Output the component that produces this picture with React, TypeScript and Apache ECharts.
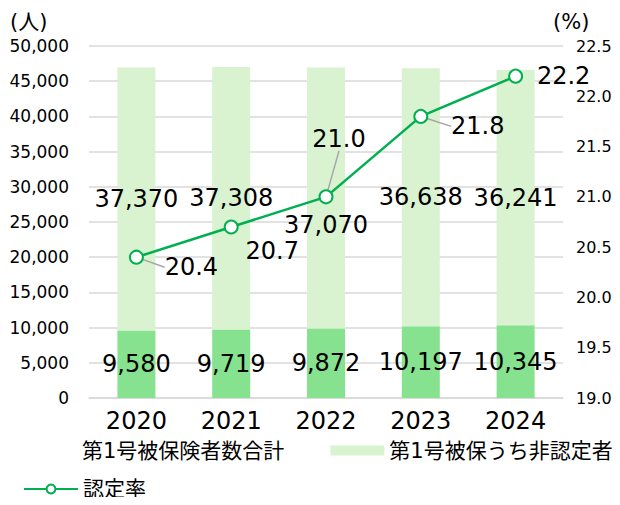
import React, { useEffect, useRef } from "react";
import * as echarts from "echarts";

const years = ["2020", "2021", "2022", "2023", "2024"];
const certified = [9580, 9719, 9872, 10197, 10345];
const nonCertified = [37370, 37308, 37070, 36638, 36241];
const totals = [46950, 47027, 46942, 46835, 46586];
const rate = [20.4, 20.7, 21.0, 21.8, 22.2];

const NAME_TOTAL = "第1号被保険者数合計";
const NAME_NON = "第1号被保うち非認定者";
const NAME_CERT = "認定者";
const NAME_RATE = "認定率";

const FONT = '"DejaVu Sans", "Noto Sans CJK JP", sans-serif';

// label placement tweaks (style, not data)
const rateLabelShift = [
  [55, 10],
  [41, 24],
  [13, -58],
  [57, 10],
  [48, 0],
];
const rateGuide = [true, false, true, true, false];
const nonLabelShift = [0, 0, 27, 0, 0];

export default function App() {
  const ref = useRef<HTMLDivElement>(null);
  useEffect(() => {
    if (!ref.current) return;
    const chart = echarts.init(ref.current, undefined, { renderer: "svg" });
    const fmt = (v: number) => v.toLocaleString("en-US");
    const option: any = {
      animation: false,
      textStyle: { fontFamily: FONT, color: "#000" },
      grid: { left: 89, right: 57, top: 46, bottom: 107 },
      graphic: [
        {
          type: "text",
          left: 10,
          top: 11,
          style: { text: "(人)", font: `21px ${FONT}`, fill: "#000" },
        },
        {
          type: "text",
          left: 553,
          top: 11,
          style: { text: "(%)", font: `21px ${FONT}`, fill: "#000" },
        },
      ],
      legend: [
        {
          left: 23,
          top: 440,
          padding: 0,
          itemWidth: 54,
          itemHeight: 10,
          itemGap: 46,
          textStyle: { fontSize: 21, color: "#000", fontFamily: FONT },
          data: [
            {
              name: NAME_TOTAL,
              icon: "rect",
              itemStyle: { opacity: 0 },
              lineStyle: { opacity: 0 },
            },
            { name: NAME_NON, icon: "rect" },
          ],
        },
        {
          left: 23,
          top: 476,
          padding: 0,
          itemWidth: 54,
          itemHeight: 11,
          textStyle: { fontSize: 21, color: "#000", fontFamily: FONT, lineHeight: 26 },
          data: [{ name: NAME_RATE }],
        },
      ],
      xAxis: {
        type: "category",
        data: years,
        axisLine: { lineStyle: { color: "#d9d9d9", width: 1.5 } },
        axisTick: { show: false },
        axisLabel: { fontSize: 24, color: "#000", margin: 11, fontFamily: FONT },
      },
      yAxis: [
        {
          type: "value",
          min: 0,
          max: 50000,
          interval: 5000,
          axisLabel: {
            fontSize: 17,
            color: "#000",
            margin: 20,
            fontFamily: FONT,
            formatter: (v: number) => fmt(v),
          },
          splitLine: { lineStyle: { color: "#d9d9d9", width: 1.5 } },
        },
        {
          type: "value",
          min: 19,
          max: 22.5,
          interval: 0.5,
          axisLabel: {
            fontSize: 16,
            color: "#000",
            margin: 13,
            fontFamily: FONT,
            formatter: (v: number) => v.toFixed(1),
          },
          splitLine: { show: false },
        },
      ],
      series: [
        {
          name: NAME_CERT,
          type: "bar",
          stack: "pop",
          barWidth: 38,
          data: certified,
          itemStyle: { color: "#87e28f" },
          label: {
            show: true,
            position: "inside",
            fontSize: 24,
            color: "#000",
            fontFamily: FONT,
            formatter: (p: any) => fmt(p.value),
          },
        },
        {
          name: NAME_NON,
          type: "bar",
          stack: "pop",
          barWidth: 38,
          data: nonCertified.map((v, i) => ({
            value: v,
            label: { offset: [0, nonLabelShift[i]] },
          })),
          itemStyle: { color: "#d9f2d0" },
          label: {
            show: true,
            position: "inside",
            fontSize: 24,
            color: "#000",
            fontFamily: FONT,
            formatter: (p: any) => fmt(p.value),
          },
        },
        {
          name: NAME_TOTAL,
          type: "line",
          data: totals,
          symbol: "none",
          lineStyle: { opacity: 0 },
          itemStyle: { opacity: 0 },
          label: {
            show: true,
            position: "inside",
            offset: [0, -23],
            fontSize: 24,
            color: "#000",
            fontFamily: FONT,
            formatter: (p: any) => fmt(p.value),
          },
          z: 5,
        },
        {
          name: NAME_RATE,
          type: "line",
          yAxisIndex: 1,
          data: rate.map((v, i) => ({
            value: v,
            labelLine: { show: rateGuide[i] },
          })),
          symbol: "circle",
          symbolSize: 13,
          lineStyle: { color: "#00b050", width: 2.5 },
          itemStyle: { color: "#fff", borderColor: "#00b050", borderWidth: 2 },
          label: {
            show: true,
            position: "inside",
            fontSize: 24,
            color: "#000",
            fontFamily: FONT,
            formatter: (p: any) => p.value.toFixed(1),
          },
          labelLine: { show: true, lineStyle: { color: "#a6a6a6", width: 1.5 } },
          labelLayout: (p: any) => ({
            dx: rateLabelShift[p.dataIndex][0],
            dy: rateLabelShift[p.dataIndex][1],
          }),
          z: 10,
        },
      ],
    };
    chart.setOption(option);
    return () => chart.dispose();
  }, []);
  return <div ref={ref} style={{ width: 620, height: 505, margin: -8 }} />;
}
